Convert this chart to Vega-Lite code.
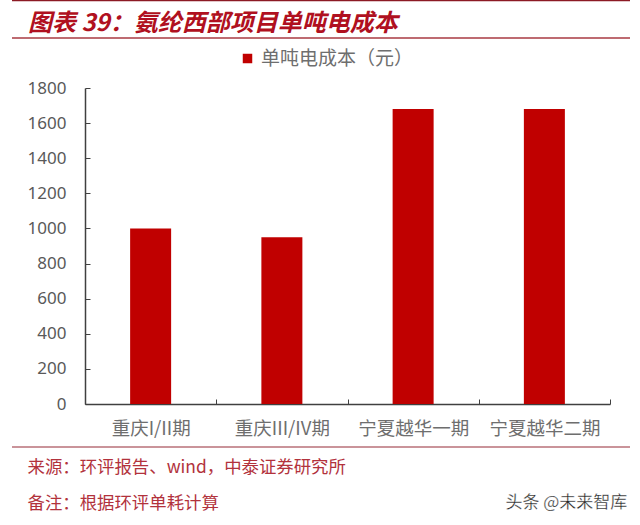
{
  "$schema": "https://vega.github.io/schema/vega-lite/v6.json",
  "width": 525,
  "height": 316,
  "autosize": "none",
  "padding": {"left": 85, "top": 88, "right": 30, "bottom": 121},
  "background": "white",
  "title": {
    "text": "图表 39：氨纶西部项目单吨电成本",
    "anchor": "start",
    "frame": "group",
    "dx": -57,
    "offset": -36,
    "font": "Noto Sans CJK SC",
    "fontSize": 24,
    "fontWeight": "bold",
    "fontStyle": "italic",
    "color": "#b01020"
  },
  "config": {"view": {"stroke": null}},
  "data": {
    "values": [
      {"project": "重庆I/II期", "series": "单吨电成本（元）", "cost": 1000},
      {"project": "重庆III/IV期", "series": "单吨电成本（元）", "cost": 950},
      {"project": "宁夏越华一期", "series": "单吨电成本（元）", "cost": 1680},
      {"project": "宁夏越华二期", "series": "单吨电成本（元）", "cost": 1680}
    ]
  },
  "encoding": {
    "x": {
      "field": "project",
      "type": "nominal",
      "sort": null,
      "scale": {"paddingInner": 0, "paddingOuter": 0},
      "axis": {
        "title": ["来源：环评报告、wind，中泰证券研究所", "备注：根据环评单耗计算"],
        "titleX": -58,
        "titleY": 63,
        "titleAlign": "left",
        "titleAnchor": "start",
        "titleBaseline": "middle",
        "titleLineHeight": 36,
        "titleFont": "Noto Sans CJK SC",
        "titleFontSize": 17.4,
        "titleFontWeight": "normal",
        "titleColor": "#b2323c",
        "labelAngle": 0,
        "labelFont": "Noto Sans CJK SC",
        "labelFontSize": 18.5,
        "labelColor": "#6e6e6e",
        "labelPadding": 20,
        "labelOverlap": false,
        "domainColor": "#404040",
        "domainWidth": 1.5,
        "tickColor": "#404040",
        "tickBand": "extent",
        "tickSize": -5,
        "tickWidth": 1
      }
    },
    "y": {
      "field": "cost",
      "type": "quantitative",
      "scale": {"domain": [0, 1800], "nice": false},
      "axis": {
        "title": null,
        "values": [0, 200, 400, 600, 800, 1000, 1200, 1400, 1600, 1800],
        "format": "d",
        "grid": false,
        "labelOverlap": false,
        "labelBound": false,
        "labelFont": "Noto Sans",
        "labelFontSize": 17,
        "labelColor": "#595959",
        "labelPadding": 24,
        "domainColor": "#404040",
        "domainWidth": 1.5,
        "tickColor": "#404040",
        "tickSize": -5,
        "tickWidth": 1
      }
    }
  },
  "layer": [
    {
      "mark": {"type": "bar", "size": 41},
      "encoding": {
        "color": {
          "field": "series",
          "type": "nominal",
          "scale": {"range": ["#c00000"]},
          "legend": {
            "title": null,
            "orient": "none",
            "legendX": 153,
            "legendY": -39,
            "symbolType": "square",
            "symbolSize": 90,
            "symbolStrokeWidth": 0,
            "labelFont": "Noto Sans CJK SC",
            "labelFontSize": 19,
            "labelColor": "#6e6e6e"
          }
        }
      }
    },
    {
      "data": {"values": [{"cost": 2298, "line": "#8c1a24"}, {"cost": 2085, "line": "#a83a42"}, {"cost": -245, "line": "#b87078"}]},
      "mark": {"type": "rule", "strokeWidth": 1.5},
      "encoding": {
        "x": {"value": -73},
        "x2": {"value": 545},
        "color": {"field": "line", "type": "nominal", "scale": null, "legend": null}
      }
    },
    {
      "data": {"values": [{"project": "宁夏越华二期", "cost": -565, "note": "头条 @未来智库"}]},
      "mark": {
        "type": "text",
        "font": "Noto Sans CJK SC",
        "fontSize": 17,
        "color": "#222222",
        "stroke": "white",
        "strokeWidth": 0.3,
        "dx": 22,
        "align": "center",
        "baseline": "middle"
      },
      "encoding": {
        "text": {"field": "note"}
      }
    }
  ]
}
